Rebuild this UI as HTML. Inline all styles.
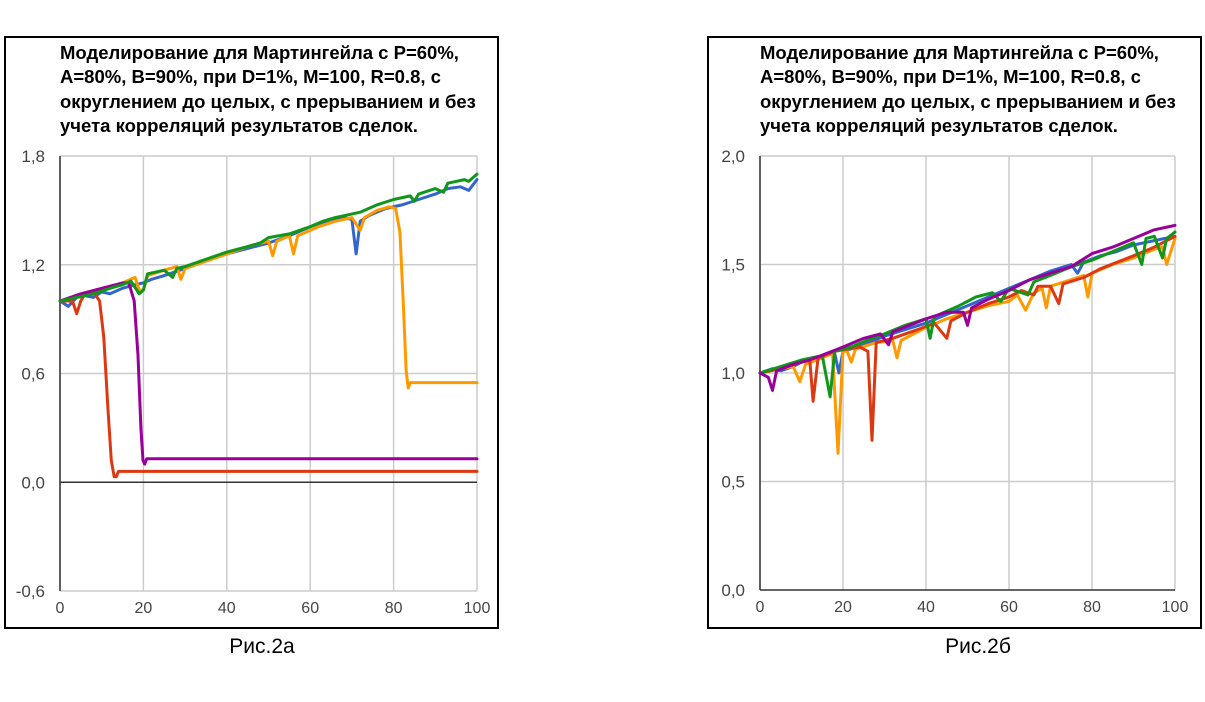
<!DOCTYPE html>
<html><head><meta charset="utf-8">
<style>
body{margin:0;background:#fff;width:1205px;height:697px;overflow:hidden;font-family:"Liberation Sans",Arial,sans-serif;}
svg text{font-family:"Liberation Sans",Arial,sans-serif;}
</style></head>
<body>
<svg id="chart" width="1205" height="697" viewBox="0 0 1205 697">
<rect x="5" y="37" width="493" height="591" fill="#fff" stroke="#000" stroke-width="2"/>
<rect x="708" y="37" width="493" height="591" fill="#fff" stroke="#000" stroke-width="2"/>
<g font-size="18.5" font-weight="bold" fill="#000">
<text x="60" y="59">Моделирование для Мартингейла с Р=60%,</text>
<text x="60" y="83">А=80%, В=90%, при D=1%, М=100, R=0.8, с</text>
<text x="60" y="108">округлением до целых, с прерыванием и без</text>
<text x="60" y="132">учета корреляций результатов сделок.</text>
</g>
<g font-size="18.5" font-weight="bold" fill="#000">
<text x="760" y="59">Моделирование для Мартингейла с Р=60%,</text>
<text x="760" y="83">А=80%, В=90%, при D=1%, М=100, R=0.8, с</text>
<text x="760" y="108">округлением до целых, с прерыванием и без</text>
<text x="760" y="132">учета корреляций результатов сделок.</text>
</g>
<text x="262" y="653" font-size="21" text-anchor="middle">Рис.2а</text>
<text x="978" y="653" font-size="21" text-anchor="middle">Рис.2б</text>
<g id="left"></g>
<g id="right"></g>
</svg>
<script>
const xTicks=[0,20,40,60,80,100];
const leftYTicks=[-0.6,0,0.6,1.2,1.8];
const rightYTicks=[0,0.5,1.0,1.5,2.0];
const colors={blue:"#3366cc",orange:"#ff9900",green:"#109618",red:"#dc3912",purple:"#990099"};
const leftBlue=[[0,1.0],[2,0.97],[4,1.02],[6,1.03],[8,1.02],[10,1.05],[12,1.04],[15,1.07],[18,1.09],[20,1.1],[22,1.12],[25,1.14],[30,1.18],[35,1.22],[40,1.26],[45,1.29],[50,1.32],[55,1.36],[60,1.41],[65,1.45],[68,1.46],[70,1.45],[71,1.26],[72,1.44],[74,1.47],[78,1.51],[82,1.53],[86,1.56],[90,1.59],[93,1.62],[96,1.63],[98,1.61],[100,1.67]];
const leftOrange=[[0,1.0],[3,1.02],[6,1.04],[10,1.06],[14,1.09],[18,1.13],[19,1.06],[20,1.06],[21,1.14],[25,1.17],[28,1.19],[29,1.12],[30,1.18],[35,1.22],[40,1.26],[45,1.3],[50,1.33],[51,1.25],[52,1.33],[55,1.36],[56,1.26],[57,1.36],[62,1.41],[66,1.44],[70,1.46],[72,1.39],[73,1.46],[76,1.5],[79,1.52],[80.5,1.51],[81.5,1.38],[82.3,1.0],[83,0.62],[83.5,0.52],[84,0.55],[100,0.55]];
const leftGreen=[[0,1.0],[4,1.02],[8,1.04],[12,1.07],[15,1.09],[17,1.11],[19,1.04],[20,1.06],[21,1.15],[25,1.17],[27,1.13],[28,1.18],[30,1.19],[35,1.23],[40,1.27],[45,1.3],[48,1.32],[50,1.35],[55,1.37],[60,1.41],[63,1.44],[66,1.46],[68,1.47],[72,1.49],[76,1.53],[80,1.56],[84,1.58],[85,1.55],[86,1.59],[90,1.62],[92,1.6],[93,1.65],[97,1.67],[98,1.66],[100,1.7]];
const leftRed=[[0,1.0],[3,1.0],[4,0.93],[5,1.0],[6,1.04],[8,1.05],[9.5,1.0],[10.5,0.8],[11.5,0.4],[12.3,0.12],[13,0.03],[13.5,0.03],[14,0.06],[100,0.06]];
const leftPurple=[[0,1.0],[5,1.04],[10,1.07],[15,1.1],[16.5,1.1],[17.8,1.0],[18.7,0.7],[19.4,0.3],[19.9,0.12],[20.3,0.1],[20.8,0.13],[100,0.13]];
const rightBlue=[[0,1.0],[3,1.02],[5,1.01],[8,1.03],[10,1.05],[15,1.08],[18,1.09],[19,1.0],[20,1.1],[25,1.13],[30,1.17],[35,1.2],[40,1.23],[45,1.27],[50,1.31],[55,1.35],[60,1.39],[65,1.43],[70,1.47],[75,1.5],[76.5,1.46],[78,1.51],[82,1.54],[86,1.56],[90,1.59],[95,1.61],[100,1.63]];
const rightOrange=[[0,1.0],[5,1.02],[8,1.03],[9.6,0.96],[11,1.04],[15,1.07],[17.5,1.09],[18.8,0.63],[20,1.1],[21,1.1],[22,1.05],[23,1.11],[28,1.14],[32,1.15],[33,1.07],[34,1.15],[40,1.21],[45,1.25],[50,1.28],[55,1.31],[60,1.33],[62,1.36],[64,1.29],[66,1.37],[68,1.39],[69,1.3],[70,1.4],[75,1.43],[78,1.45],[79,1.35],[80,1.46],[85,1.5],[90,1.53],[95,1.57],[97,1.58],[98,1.5],[100,1.62]];
const rightGreen=[[0,1.0],[5,1.03],[10,1.06],[15,1.08],[16.9,0.89],[18,1.1],[22,1.12],[27,1.16],[30,1.18],[35,1.22],[40,1.25],[41,1.16],[42,1.26],[48,1.31],[52,1.35],[56,1.37],[58,1.33],[60,1.39],[64.6,1.36],[66,1.42],[70,1.45],[75,1.49],[80,1.52],[85,1.56],[90,1.6],[92,1.5],[93,1.62],[95,1.63],[97,1.53],[98,1.62],[100,1.65]];
const rightRed=[[0,1.0],[5,1.02],[10,1.05],[12,1.06],[12.8,0.87],[14,1.07],[18,1.1],[24,1.12],[26,1.1],[27,0.69],[28,1.14],[32,1.16],[38,1.2],[42,1.23],[45,1.16],[46,1.24],[50,1.28],[55,1.32],[60,1.35],[63,1.38],[66,1.36],[67,1.4],[70,1.4],[72,1.32],[73,1.41],[78,1.44],[82,1.48],[86,1.51],[90,1.54],[95,1.58],[100,1.63]];
const rightPurple=[[0,1.0],[2,0.98],[3,0.92],[4,1.01],[8,1.04],[12,1.06],[16,1.09],[20,1.12],[25,1.16],[29,1.18],[31,1.13],[32,1.19],[36,1.22],[40,1.25],[45,1.28],[49,1.28],[50,1.22],[51,1.3],[55,1.34],[60,1.38],[65,1.43],[70,1.46],[75,1.49],[80,1.55],[85,1.58],[90,1.62],[95,1.66],[100,1.68]];

const NS="http://www.w3.org/2000/svg";
function mk(tag,attrs,parent){const e=document.createElementNS(NS,tag);for(const k in attrs)e.setAttribute(k,attrs[k]);parent.appendChild(e);return e;}
function drawChart(g,cfg){
  const sx=v=>cfg.x0+(v-0)/(100-0)*(cfg.x1-cfg.x0);
  const sy=v=>cfg.yTop+(cfg.yMax-v)/(cfg.yMax-cfg.yMin)*(cfg.yBot-cfg.yTop);
  xTicks.forEach(t=>{
    const l=mk("line",{x1:sx(t),x2:sx(t),y1:cfg.yTop,y2:cfg.yBot,stroke:"#cccccc","stroke-width":1.5},g);
    
    
    const tx=mk("text",{x:sx(t),y:cfg.yBot+22,"font-size":16,fill:"#444","text-anchor":"middle"},g);
    tx.textContent=t;
    
    
  });
  cfg.yTicks.forEach(t=>{
    const l=mk("line",{x1:cfg.x0,x2:cfg.x1,y1:sy(t),y2:sy(t),stroke:Math.abs(t)<1e-9?"#333":"#cccccc","stroke-width":1.5},g);
    
    
    const tx=mk("text",{x:cfg.x0-15,y:sy(t)+6,"font-size":17,fill:"#444","text-anchor":"end"},g);
    tx.textContent=t.toFixed(1).replace('.',',');
    
    
  });
  const ax=mk("line",{x1:cfg.x0,x2:cfg.x0,y1:cfg.yTop,y2:cfg.yBot,stroke:"#333","stroke-width":1.5},g);
  
  
  cfg.series.forEach(s=>{
    const p=mk("polyline",{points:s.data.map(d=>sx(d[0]).toFixed(1)+","+sy(d[1]).toFixed(1)).join(" "),fill:"none",stroke:colors[s.c],"stroke-width":3,"stroke-linejoin":"round","stroke-linecap":"round"},g);
    
    
  });
}
drawChart(document.getElementById("left"),{x0:60,x1:477,yTop:156,yBot:591,yMin:-0.6,yMax:1.8,yTicks:leftYTicks,
  series:[{c:"blue",data:leftBlue},{c:"orange",data:leftOrange},{c:"red",data:leftRed},{c:"purple",data:leftPurple},{c:"green",data:leftGreen}]});
drawChart(document.getElementById("right"),{x0:760,x1:1175,yTop:156,yBot:590,yMin:0,yMax:2.0,yTicks:rightYTicks,
  series:[{c:"blue",data:rightBlue},{c:"orange",data:rightOrange},{c:"red",data:rightRed},{c:"green",data:rightGreen},{c:"purple",data:rightPurple}]});
</script>
</body></html>
